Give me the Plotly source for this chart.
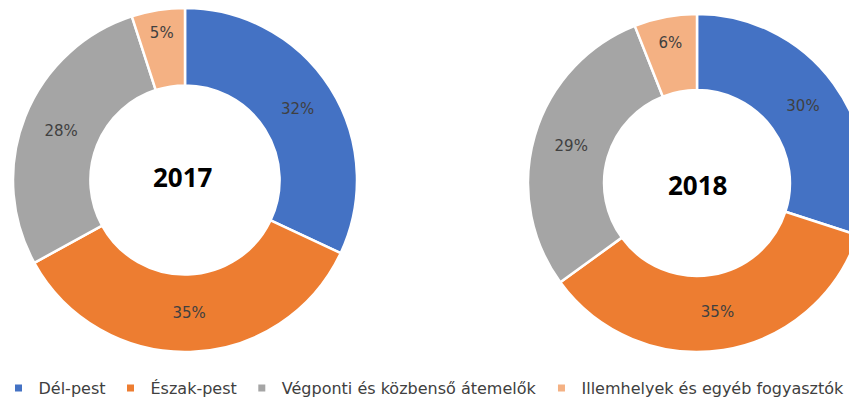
import plotly.graph_objects as go

categories = ["Dél-pest", "Észak-pest", "Végponti és közbenső átemelők", "Illemhelyek és egyéb fogyasztók"]
values_2017 = [32, 35, 28, 5]
values_2018 = [30, 35, 29, 6]
years = ["2017", "2018"]
colors = ["#4472C4", "#ED7D31", "#A5A5A5", "#F4B183"]

# page body has an 8px margin; figure coordinates = screen - 8
W, H = 880, 400
OFF = 8
fig = go.Figure()

def dom(cx, cy, r):
    cx -= OFF
    cy -= OFF
    return dict(x=[(cx - r) / W, (cx + r) / W],
                y=[(H - (cy + r)) / H, (H - (cy - r)) / H])

specs = [(values_2017, dom(185, 180, 172)), (values_2018, dom(697, 183, 169))]
for vals, d in specs:
    fig.add_trace(go.Pie(
        labels=categories, values=vals, hole=0.55, sort=False,
        direction="clockwise", rotation=0, domain=d,
        marker=dict(colors=colors, line=dict(color="white", width=2.5)),
        texttemplate="%{value}%", textposition="inside",
        insidetextorientation="horizontal",
        textfont=dict(family="DejaVu Sans", size=15, color="#404040"),
        showlegend=False, hoverinfo="label+percent",
    ))

# legend entries
for cat, col in zip(categories, colors):
    fig.add_trace(go.Scatter(x=[None], y=[None], mode="markers", name=cat,
                             marker=dict(symbol="square", size=7, color=col),
                             showlegend=True))

for yr, (cx, cy) in zip(years, [(183, 177), (697, 185)]):
    fig.add_annotation(x=(cx - OFF) / W, y=(H - (cy - OFF)) / H, xref="paper", yref="paper",
                       xanchor="center", yanchor="middle",
                       text="<b>%s</b>" % yr, showarrow=False,
                       font=dict(family="Open Sans", size=26, color="#000000"))

fig.update_layout(
    width=W, height=H, margin=dict(l=0, r=0, t=0, b=0, autoexpand=False),
    paper_bgcolor="white", plot_bgcolor="white",
    xaxis=dict(visible=False), yaxis=dict(visible=False),
    legend=dict(orientation="h", x=(424 - OFF) / W, xanchor="center",
                y=(H - (388 - OFF)) / H, yanchor="middle",
                font=dict(family="DejaVu Sans", size=16, color="#404040"),
                bgcolor="rgba(0,0,0,0)", itemwidth=30, tracegroupgap=0),
)

fig.write_html("out.html")
